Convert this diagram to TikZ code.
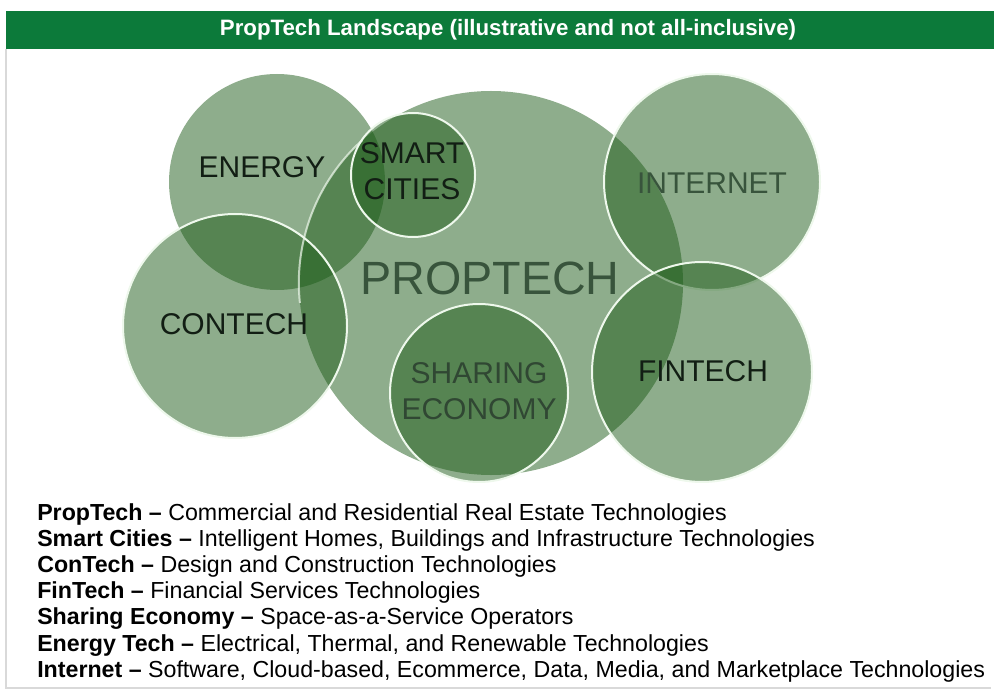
\documentclass[tikz,border=0pt]{standalone}
\usepackage{fontspec}
\setmainfont{Liberation Sans}
\usepackage{tikz}
\usetikzlibrary{positioning}
\definecolor{barGreen}{RGB}{12,122,58}
\definecolor{bubbleGreen}{RGB}{30,92,25}
\definecolor{rimWhite}{RGB}{238,248,236}
\definecolor{inkDark}{RGB}{18,30,20}
\definecolor{inkSoft}{RGB}{56,84,60}

\begin{document}
\begin{tikzpicture}[x=0.75pt, y=-0.75pt,
  bubble/.style={circle, inner sep=0pt, fill=bubbleGreen, fill opacity=0.5},
  rimmed/.style={bubble, draw=rimWhite, line width=1.5pt},
  tag/.style={font=\fontsize{22.5pt}{27.4pt}\selectfont, align=center,
              inner sep=0pt, text=inkDark},
  deftext/.style={anchor=base west, inner sep=0pt,
                  font=\fontsize{17.4pt}{20pt}\selectfont}
]
  \useasboundingbox (0,0) rectangle (994,691);

  % frame and title bar
  \draw[gray!30, line width=0.8pt] (6,49) -- (6,688) -- (991,688);
  \fill[barGreen] (6,11) rectangle (994,49);
  \node[text=white, font=\bfseries\fontsize{16.7pt}{19pt}\selectfont] (title) at (508,30)
    {PropTech Landscape (illustrative and not all-inclusive)};

  % bubbles
  \node[bubble, minimum size=162pt] (energy) at (277,182) {};
  \node[bubble, minimum size=288pt] (prop) at (491,283) {};
  \node[rimmed, minimum size=168pt] (contech) at (235,326) {};
  \node[rimmed, minimum size=93pt] (smart) at (413,175) {};
  \node[rimmed, minimum size=133.5pt] (sharing) at (479,393) {};
  \node[rimmed, minimum size=162pt] (internet) at (712,182) {};
  \node[rimmed, minimum size=165pt] (fintech) at (702,372) {};
  \draw[rimWhite, line width=1.5pt, opacity=0.7]
    (prop.132) arc[start angle=132, end angle=186, radius=144pt];

  % bubble labels
  \node[tag] (energyTag) at (262,167) {ENERGY};
  \node[tag] (smartTag) at (412,171) {SMART\\CITIES};
  \node[tag] (contechTag) at (234,324) {CONTECH};
  \node[tag, text=inkSoft, font=\fontsize{35pt}{40pt}\selectfont] (propTag) at (490,278) {PROPTECH};
  \node[tag, text=inkSoft] (internetTag) at (712,183) {INTERNET};
  \node[tag, text=inkSoft!85!black] (sharingTag) at (479,391) {SHARING\\ECONOMY};
  \node[tag] (fintechTag) at (703,371) {FINTECH};

  % definitions
  \node[deftext] (defProp) at (37,520.5)
    {\textbf{PropTech --} Commercial and Residential Real Estate Technologies};
  \node[deftext] (defSmart) at (37,546.6)
    {\textbf{Smart Cities --} Intelligent Homes, Buildings and Infrastructure Technologies};
  \node[deftext] (defCon) at (37,572.7)
    {\textbf{ConTech --} Design and Construction Technologies};
  \node[deftext] (defFin) at (37,598.8)
    {\textbf{FinTech --} Financial Services Technologies};
  \node[deftext] (defShare) at (37,624.9)
    {\textbf{Sharing Economy --} Space-as-a-Service Operators};
  \node[deftext] (defEnergy) at (37,651)
    {\textbf{Energy Tech --} Electrical, Thermal, and Renewable Technologies};
  \node[deftext] (defNet) at (37,677.1)
    {\textbf{Internet --} Software, Cloud-based, Ecommerce, Data, Media, and Marketplace Technologies};
\end{tikzpicture}
\end{document}
